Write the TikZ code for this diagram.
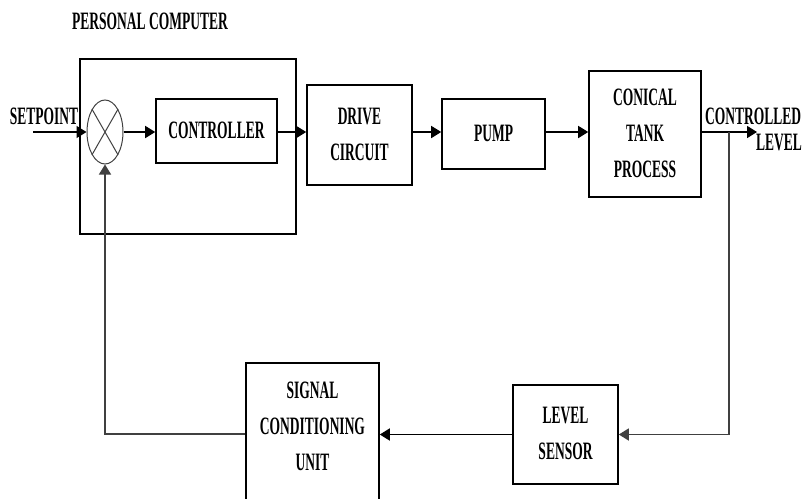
\documentclass[tikz,border=0pt]{standalone}
\usepackage{fontspec}
\usepackage{graphicx}
\setmainfont{Liberation Serif}
\usetikzlibrary{shapes.geometric,arrows.meta}
\newcommand{\lbl}[1]{\scalebox{0.54}[1]{\begin{tabular}{@{}c@{}}#1\end{tabular}}}
\begin{document}
\begin{tikzpicture}[x=1pt,y=-1pt,
  font=\fontsize{25}{36}\selectfont\bfseries,
  box/.style={draw, line width=1.6pt, inner sep=0pt, rectangle},
  arr/.style={line width=1.6pt, -{Triangle[length=10pt,width=12pt]}},
  fb/.style={line width=1.5pt, draw=black!75},
  txt/.style={inner sep=0pt}]
\useasboundingbox (0,0) rectangle (805,498);
\coordinate (mainline) at (0,132);
% personal computer enclosure
\node[box, minimum width=216, minimum height=175] (pc) at (188,146.5) {};
\node[txt] (pct) at (150,22) {\lbl{PERSONAL COMPUTER}};
% summing junction
\node[draw=black!75, line width=1pt, ellipse, minimum width=36, minimum height=64, inner sep=0pt] (sum) at (105,132) {};
\draw[black!75, line width=1pt] (sum.north west) -- (sum.south east);
\draw[black!75, line width=1pt] (sum.north east) -- (sum.south west);
% blocks
\node[box, minimum width=121, minimum height=64] (ctrl) at (216.5,131) {\lbl{CONTROLLER}};
\node[box, minimum width=105, minimum height=100] (drive) at (359.5,135) {\lbl{DRIVE\\CIRCUIT}};
\node[box, minimum width=103, minimum height=70] (pump) at (493.5,134) {\lbl{PUMP}};
\node[box, minimum width=112, minimum height=126] (tank) at (645,134) {\lbl{CONICAL\\TANK\\PROCESS}};
\node[box, minimum width=105, minimum height=99] (lsens) at (565.5,434.5) {\lbl{LEVEL\\SENSOR}};
\node[box, minimum width=133, minimum height=142] (sig) at (312.5,434) {};
\node[txt] (sigt) at (312.5,427) {\lbl{SIGNAL\\CONDITIONING\\UNIT}};
% input / output labels
\node[txt] (spt) at (44,117) {\lbl{SETPOINT}};
\node[txt] (cl1) at (753,117) {\lbl{CONTROLLED}};
\node[txt] (cl2) at (779,143) {\lbl{LEVEL}};
\coordinate (sp) at (33,132);
\coordinate (out) at (757,132);
\coordinate (tap) at (729,132);
\coordinate (fbl) at (105,434);
% forward path
\draw[arr] (sp) -- (sum.west);
\draw[arr] (sum.east) -- (ctrl.west |- mainline);
\draw[arr] (ctrl.east |- mainline) -- (drive.west |- mainline);
\draw[arr] (drive.east |- mainline) -- (pump.west |- mainline);
\draw[arr] (pump.east |- mainline) -- (tank.west |- mainline);
\draw[arr] (tank.east |- mainline) -- (out);
% feedback path
\draw[fb, -{Triangle[length=10pt,width=12pt]}] (tap) |- (lsens.east);
\draw[arr] (lsens.west) -- (lsens.west -| sig.east);
\draw[fb, -{Triangle[length=10pt,width=12pt]}] (sig.west) -- (fbl) -- (sum.south);
\end{tikzpicture}
\end{document}
